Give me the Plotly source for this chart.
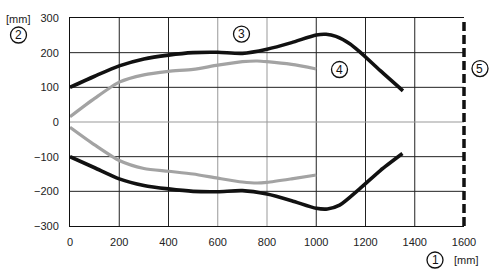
import plotly.graph_objects as go

# Data
x_black_up = [0, 100, 200, 300, 400, 500, 600, 700, 800, 900, 1000, 1040, 1080, 1136, 1176, 1260, 1352]
y_black_up = [100, 132, 162, 182, 193, 200, 201, 198, 210, 229, 251, 253, 247, 226, 203, 148, 90]
x_black_lo = [0, 100, 200, 300, 400, 500, 600, 700, 800, 900, 1000, 1045, 1095, 1176, 1260, 1350]
y_black_lo = [-100, -132, -164, -183, -193, -200, -201, -198, -208, -227, -249, -251, -240, -193, -140, -91]

x_gray = [0, 100, 200, 300, 400, 500, 600, 700, 760, 800, 900, 1000]
y_gray_up = [15, 68, 115, 136, 146, 152, 164, 174, 176, 174, 166, 153]
y_gray_lo = [-15, -66, -111, -134, -142, -150, -162, -173, -176, -174, -164, -153]

x_ticks = [0, 200, 400, 600, 800, 1000, 1200, 1400, 1600]
y_ticks = [-300, -200, -100, 0, 100, 200, 300]
x_grid_gray = [600, 800]
y_grid_gray = [0]
limit_x = 1600
x_range = [0, 1600]

BLACK = "#111111"
GRAY = "#a3a3a3"
FONT = "Liberation Sans"

W, H = 500, 272
ML, MR, MT, MB = 70, 36, 12, 46

fig = go.Figure()
for xs, ys, c, w in [(x_gray, y_gray_up, GRAY, 3.2), (x_gray, y_gray_lo, GRAY, 3.2),
                     (x_black_up, y_black_up, BLACK, 3.6), (x_black_lo, y_black_lo, BLACK, 3.6)]:
    fig.add_trace(go.Scatter(x=xs, y=ys, mode="lines",
                             line=dict(color=c, width=w, shape="spline", smoothing=0.7),
                             showlegend=False, hoverinfo="skip"))

shapes = []
for xv in x_ticks[1:-1]:
    shapes.append(dict(type="line", xref="x", yref="paper", x0=xv, x1=xv, y0=0, y1=1,
                       line=dict(color="#999999" if xv in x_grid_gray else "#222222", width=1),
                       layer="below"))
for yv in y_ticks[1:-1]:
    shapes.append(dict(type="line", xref="paper", yref="y", x0=0, x1=1, y0=yv, y1=yv,
                       line=dict(color="#999999" if yv in y_grid_gray else "#222222", width=1),
                       layer="below"))
lim_p = (limit_x - x_range[0]) / (x_range[1] - x_range[0])
shapes.append(dict(type="line", xref="paper", yref="paper", x0=lim_p, x1=lim_p, y0=0, y1=1,
                   line=dict(color=BLACK, width=3.5, dash="9px,4px")))


def px_to_paper(px, py):
    return (px - ML) / (W - ML - MR), 1 - (py - MT) / (H - MT - MB)


# circled labels: (label, pixel x, pixel y)
circled = [("3", 241.5, 28.5), ("4", 339.5, 65), ("5", 480, 64), ("2", 18.5, 29.5), ("1", 435, 261)]
ann = []
for lab, px, py in circled:
    xp, yp = px_to_paper(px, py)
    shapes.append(dict(type="circle", xref="paper", yref="paper", xsizemode="pixel", ysizemode="pixel",
                       xanchor=xp, yanchor=yp, x0=-8, x1=8, y0=-8, y1=8,
                       line=dict(color=BLACK, width=1.3), fillcolor="rgba(0,0,0,0)"))
    ann.append(dict(x=xp, y=yp, xref="paper", yref="paper", text=lab, showarrow=False,
                    font=dict(family=FONT, size=12, color=BLACK), xanchor="center", yanchor="middle"))

for txt, px, py in [("[mm]", 452, 261), ("[mm]", 4, 13)]:
    xp, yp = px_to_paper(px, py)
    ann.append(dict(x=xp, y=yp, xref="paper", yref="paper", text=txt, showarrow=False,
                    font=dict(family=FONT, size=11, color="#222222"), xanchor="left", yanchor="middle"))

fig.update_layout(
    width=W, height=H,
    margin=dict(l=ML, r=MR, t=MT, b=MB),
    paper_bgcolor="white", plot_bgcolor="white",
    font=dict(family=FONT, size=11, color="#222222"),
    shapes=shapes, annotations=ann,
    xaxis=dict(range=x_range, tickvals=x_ticks, showgrid=False, zeroline=False,
               showline=True, linecolor=BLACK, linewidth=1, mirror=True, ticks="",
               ticklabelstandoff=6, fixedrange=True),
    yaxis=dict(range=[-300, 300], tickvals=y_ticks, showgrid=False, zeroline=False,
               showline=True, linecolor=BLACK, linewidth=1, mirror=False, ticks="",
               ticklabelstandoff=8, fixedrange=True),
)

fig.write_html("out.html")
